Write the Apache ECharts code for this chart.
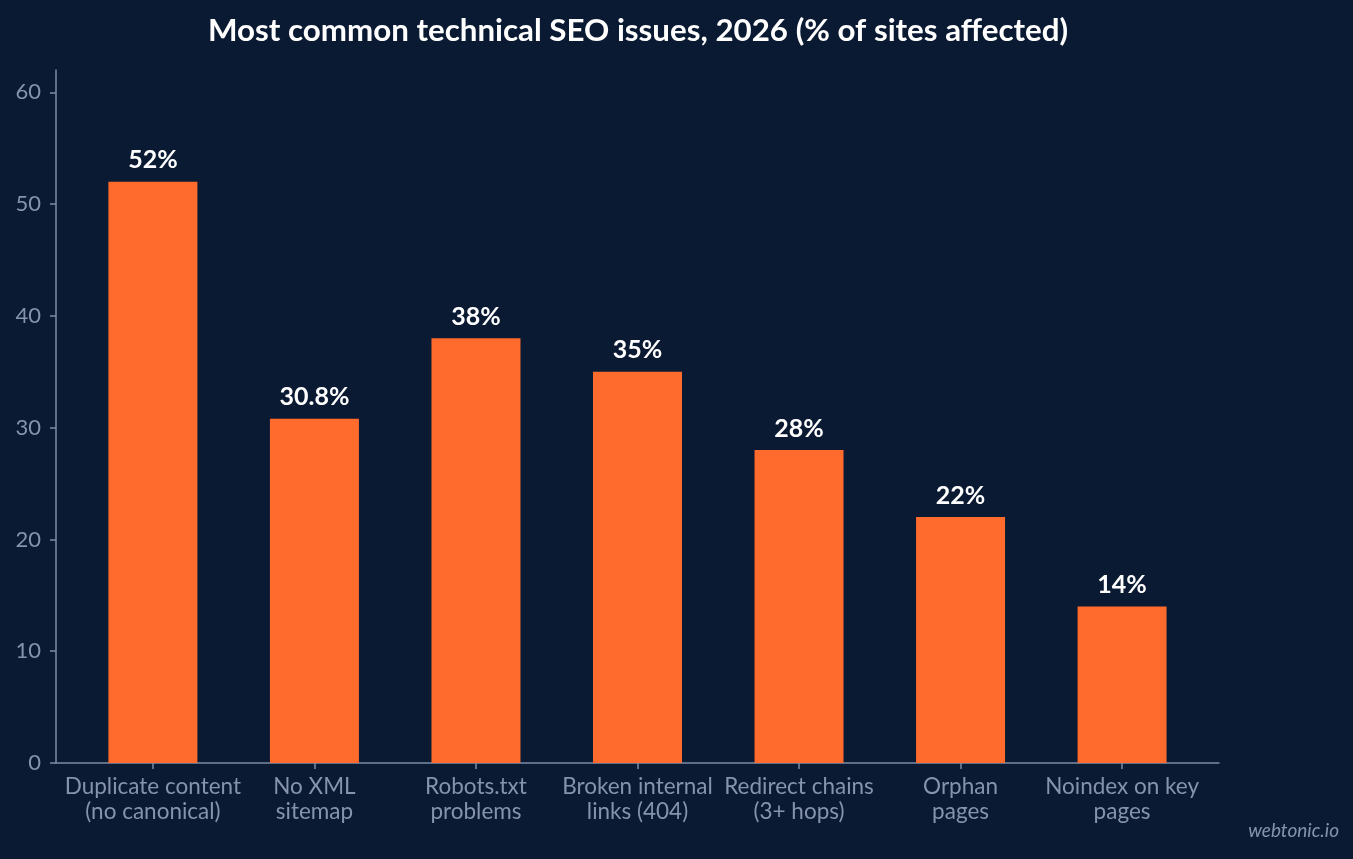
<!DOCTYPE html>
<html>
<head>
<meta charset="utf-8">
<script src="https://cdn.jsdelivr.net/npm/echarts@6/dist/echarts.min.js"></script>
<style>
  html, body { margin: 0; padding: 0; background: #0b1a33; }
  #chart { width: 1353px; height: 859px; }
</style>
</head>
<body>
<div id="chart"></div>
<script>
  const issues = [
    "Duplicate content\n(no canonical)",
    "No XML\nsitemap",
    "Robots.txt\nproblems",
    "Broken internal\nlinks (404)",
    "Redirect chains\n(3+ hops)",
    "Orphan\npages",
    "Noindex on key\npages"
  ];
  const affected = [52, 30.8, 38, 35, 28, 22, 14];
  const yTicks = [0, 10, 20, 30, 40, 50, 60];

  const chart = echarts.init(document.getElementById("chart"));
  const positions = issues.map(function (_, i) { return i; });
  const axisColor = "#7d8ca6";
  const labelColor = "#8594ac";

  chart.setOption({
    backgroundColor: "#0b1a33",
    textStyle: { fontFamily: "Lato" },
    title: {
      text: "Most common technical SEO issues, 2026 (% of sites affected)",
      left: 633,
      textAlign: "center",
      top: 10,
      textStyle: { color: "#ffffff", fontSize: 31.3, fontWeight: "bold", fontFamily: "Lato" }
    },
    graphic: [{
      type: "text",
      right: 14,
      top: 821,
      style: {
        text: "webtonic.io",
        fill: "#8594ac",
        font: "italic 19px Lato"
      }
    }],
    grid: { left: 56, right: 134, top: 70, bottom: 96 },
    xAxis: {
      type: "value",
      min: -0.6,
      max: 6.6,
      splitLine: { show: false },
      axisLine: { show: true, lineStyle: { color: axisColor, width: 1.5 } },
      axisTick: { show: true, customValues: positions, length: 6, lineStyle: { color: axisColor, width: 1.5 } },
      axisLabel: {
        customValues: positions,
        color: labelColor,
        fontSize: 22.5,
        lineHeight: 25,
        margin: 11,
        fontFamily: "Lato",
        formatter: function (v) { return issues[Math.round(v)]; }
      }
    },
    yAxis: {
      type: "value",
      min: 0,
      max: 62,
      splitLine: { show: false },
      axisLine: { show: true, onZero: false, lineStyle: { color: axisColor, width: 1.5 } },
      axisTick: { show: true, customValues: yTicks, length: 6, lineStyle: { color: axisColor, width: 1.5 } },
      axisLabel: { customValues: yTicks, color: labelColor, fontSize: 22, margin: 15, fontFamily: "Lato" }
    },
    series: [{
      type: "bar",
      data: affected.map(function (v, i) { return [i, v]; }),
      barWidth: 89,
      itemStyle: { color: "#ff6a2d" },
      label: {
        show: true,
        position: "top",
        distance: 9,
        color: "#ffffff",
        fontSize: 25,
        fontWeight: "bold",
        fontFamily: "Lato",
        formatter: function (p) { return p.value[1] + "%"; }
      }
    }]
  });
</script>
</body>
</html>
